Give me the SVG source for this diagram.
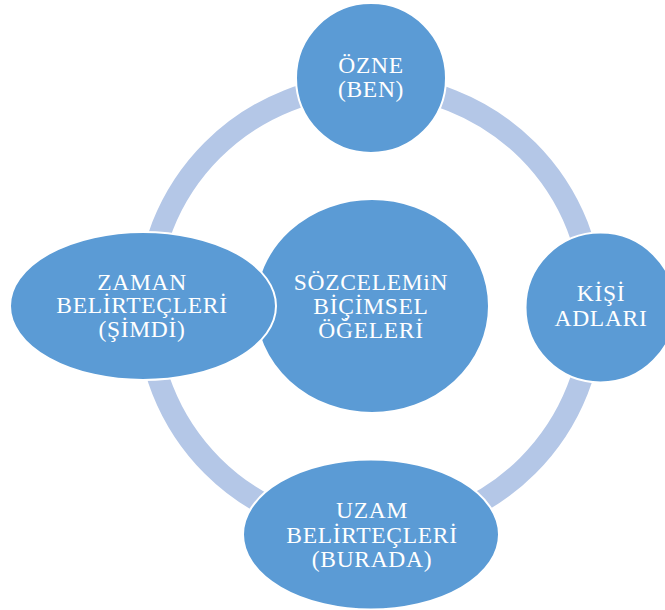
<svg xmlns="http://www.w3.org/2000/svg" width="665" height="610" viewBox="0 0 665 610">
<style>
.n{fill:#5b9bd5;stroke:#ffffff;stroke-width:2}
.t{fill:#ffffff;font-family:"Liberation Serif","Times New Roman",serif;font-size:23.5px;letter-spacing:0.7px;text-anchor:middle}
.ring{fill:none;stroke:#b4c7e7;stroke-width:22}
</style>
<rect width="665" height="610" fill="#ffffff"/>
<g id="connectors">
<circle class="ring" cx="370" cy="308" r="223"/>
</g>
<g id="center">
<ellipse class="n" cx="372" cy="306" rx="117" ry="107"/>
<text class="t" x="371" y="290">SÖZCELEMiN</text>
<text class="t" x="371" y="314">BİÇİMSEL</text>
<text class="t" x="371" y="338">ÖĞELERİ</text>
</g>
<g id="ozne">
<circle class="n" cx="371" cy="78" r="75"/>
<text class="t" x="371" y="73">ÖZNE</text>
<text class="t" x="371" y="97">(BEN)</text>
</g>
<g id="kisi">
<circle class="n" cx="600.5" cy="307.5" r="75"/>
<text class="t" x="601" y="301">KİŞİ</text>
<text class="t" x="601" y="326">ADLARI</text>
</g>
<g id="uzam">
<ellipse class="n" cx="371" cy="534.5" rx="128" ry="75"/>
<text class="t" x="372" y="518">UZAM</text>
<text class="t" x="372" y="543">BELİRTEÇLERİ</text>
<text class="t" x="372" y="567">(BURADA)</text>
</g>
<g id="zaman">
<ellipse class="n" cx="143" cy="306" rx="133" ry="74"/>
<text class="t" x="142" y="290">ZAMAN</text>
<text class="t" x="142" y="313">BELİRTEÇLERİ</text>
<text class="t" x="142" y="337">(ŞİMDİ)</text>
</g>
</svg>
